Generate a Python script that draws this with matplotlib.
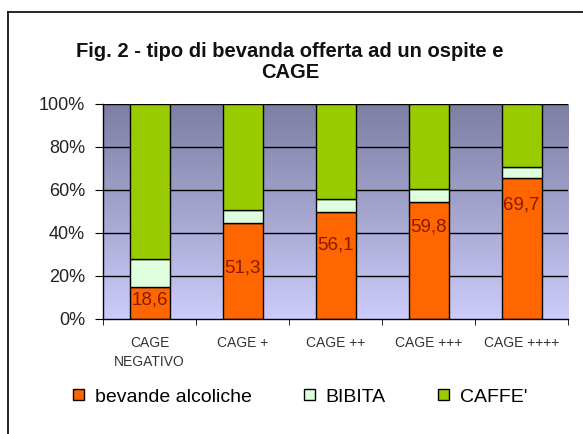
import numpy as np
import matplotlib
matplotlib.use("Agg")

import matplotlib.pyplot as plt
from matplotlib.lines import Line2D
from matplotlib.patches import Patch


# =====================================================
# DATA
# =====================================================

categories = [
    "CAGE\nNEGATIVO",
    "CAGE +",
    "CAGE ++",
    "CAGE +++",
    "CAGE ++++"
]

alcoliche = [15.0, 44.8, 49.6, 54.3, 65.4]
bibita = [12.8, 5.9, 6.2, 6.0, 5.4]
caffe = [72.2, 49.3, 44.2, 39.7, 29.2]

value_labels = ["18,6", "51,3", "56,1", "59,8", "69,7"]
label_y = [8.8, 23.7, 34.4, 42.8, 53.0]

series_names = ["bevande alcoliche", "BIBITA", "CAFFE'"]
series_colors = ["#FF6600", "#DDFFDD", "#99CC00"]

yticks = [0, 20, 40, 60, 80, 100]


# =====================================================
# FIGURE
# =====================================================

plt.rcParams["font.family"] = ["Liberation Sans", "DejaVu Sans"]

fig = plt.figure(figsize=(5.83, 4.34), dpi=100)

# outer chart frame (cropped on right and bottom)
fig.add_artist(Line2D([0.013, 0.013], [0.9724, -0.01],
                      transform=fig.transFigure, color="black", lw=1.2))
fig.add_artist(Line2D([0.013, 1.01], [0.9724, 0.9724],
                      transform=fig.transFigure, color="black", lw=1.2))

ax = fig.add_axes([0.1767, 0.265, 0.7976, 0.4954])

x = np.arange(len(categories))

# gradient background
grad = np.linspace(0, 1, 256).reshape(-1, 1)
top_col = np.array([124, 126, 162]) / 255
bot_col = np.array([204, 204, 250]) / 255
img = bot_col + (top_col - bot_col) * grad[:, :, None]
ax.imshow(img, extent=(-0.5, 4.5, 0, 100), origin="lower",
          aspect="auto", zorder=0)

for yv in yticks[1:]:
    ax.axhline(yv, color="black", lw=1.0, zorder=1)

bar_w = 0.43
bottom = np.zeros(len(categories))
for vals, col in zip([alcoliche, bibita, caffe], series_colors):
    ax.bar(x, vals, bar_w, bottom=bottom, color=col,
           edgecolor="black", linewidth=1.0, zorder=2)
    bottom = bottom + np.array(vals)

for xi, lab, ly in zip(x, value_labels, label_y):
    ax.text(xi, ly, lab, ha="center", va="center",
            fontsize=13.5, color="#8B1A00", zorder=3)

ax.set_xlim(-0.5, 4.5)
ax.set_ylim(0, 100)

ax.set_yticks(yticks)
ax.set_yticklabels([f"{v}%" for v in yticks], fontsize=13, color="#222222")

ax.set_xticks(x)
ax.set_xticklabels(categories, fontsize=10, color="#333333",
                   linespacing=1.5)
ax.tick_params(axis="x", which="major", length=0, pad=12)
ax.set_xticks(np.arange(-0.5, 5.0, 1.0), minor=True)
ax.tick_params(axis="x", which="minor", length=4, direction="out")
ax.tick_params(axis="y", length=6, direction="out", pad=7)

for side in ["top", "right"]:
    ax.spines[side].set_visible(False)
ax.spines["left"].set_linewidth(1.0)
ax.spines["bottom"].set_linewidth(1.0)

fig.text(0.497, 0.858, "Fig. 2 - tipo di bevanda offerta ad un ospite e\nCAGE",
         ha="center", va="center", fontsize=14.5, fontweight="bold",
         color="#111111", linespacing=1.15)

handles = [Patch(facecolor=c, edgecolor="black", linewidth=1.0)
           for c in series_colors]
fig.legend(handles, series_names, loc="center left", ncol=3,
           bbox_to_anchor=(0.096, 1 - 397 / 434), frameon=False, fontsize=14,
           handlelength=0.55, handleheight=0.55, handletextpad=0.55,
           columnspacing=2.7)

fig.savefig("out.png", dpi=100)
